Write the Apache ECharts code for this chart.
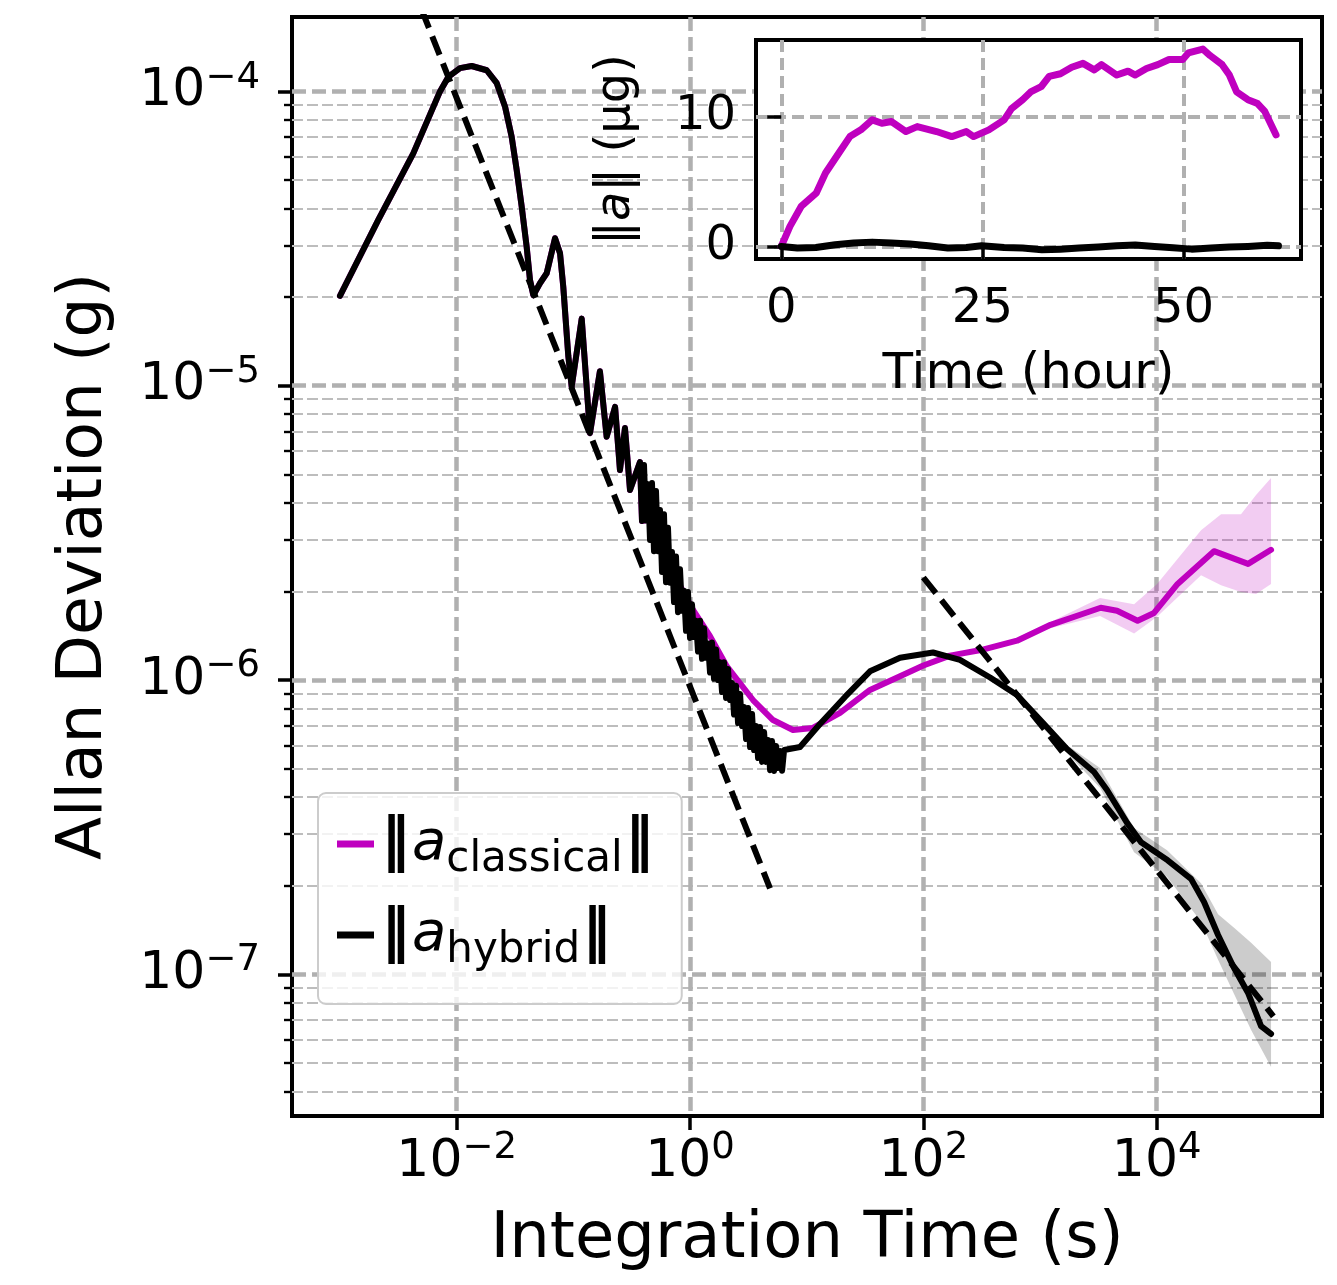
<!DOCTYPE html>
<html><head><meta charset="utf-8">
<script src="https://cdn.jsdelivr.net/npm/echarts@6/dist/echarts.min.js"></script>
<style>html,body{margin:0;padding:0;background:#fff}#c{width:1337px;height:1285px}</style>
</head><body><div id="c"></div>
<script>
// ---------- data ----------
// common part of both curves (tau < 0.35 s); both curves overlap here
const commonTau = [1.0e-3, 2.13e-3, 4.25e-3, 7.20e-3, 8.48e-3, 1.068e-2, 1.346e-2, 1.81e-2, 2.20e-2, 2.60e-2,
  2.96e-2, 3.27e-2, 3.61e-2, 3.98e-2, 4.25e-2, 4.54e-2, 5.18e-2, 5.91e-2, 6.97e-2, 7.69e-2,
  8.2e-2, 9.06e-2, 9.68e-2, 0.118, 0.139, 0.169, 0.193, 0.228, 0.251, 0.277, 0.306];
const commonAdev = [2.02e-5, 3.66e-5, 6.16e-5, 1.0e-4, 1.12e-4, 1.20e-4, 1.22e-4, 1.18e-4, 1.07e-4, 8.87e-5,
  7.02e-5, 5.41e-5, 4.06e-5, 2.97e-5, 2.29e-5, 2.03e-5, 2.23e-5, 2.41e-5, 3.17e-5, 2.82e-5,
  2.17e-5, 1.26e-5, 9.93e-6, 1.69e-5, 6.9e-6, 1.12e-5, 6.71e-6, 8.47e-6, 5.17e-6, 7.18e-6, 4.42e-6];

// hybrid: dense noisy section (0.37 s .. 6.4 s) then the long-tau part
const hybridTauTail = [0.3727, 0.3877, 0.4034, 0.4196, 0.4365, 0.4541, 0.4724, 0.4914, 0.5111, 0.5317,
  0.5531, 0.5754, 0.5985, 0.6226, 0.6477, 0.6738, 0.7009, 0.7291, 0.7586, 0.7891,
  0.8209, 0.8540, 0.8884, 0.9242, 0.9613, 1.0, 1.0403, 1.0822, 1.1258, 1.1711,
  1.2183, 1.2674, 1.3184, 1.3715, 1.4268, 1.4843, 1.5441, 1.6063, 1.6710, 1.7384,
  1.8084, 1.8813, 1.9571, 2.0359, 2.1180, 2.2033, 2.2921, 2.3845, 2.4805, 2.5805,
  2.6845, 2.7927, 2.9052, 3.0223, 3.1441, 3.2708, 3.4026, 3.5397, 3.6824, 3.8308,
  3.9852, 4.1458, 4.3129, 4.4867, 4.6675, 4.8556, 5.0512, 5.2548, 5.4666, 5.6869,
  5.9161, 6.1545, 6.4025,
  8.77, 13.0, 21.3, 34.9, 63.1, 121, 206, 373, 635, 1082,
  1702, 2904, 3750, 5570, 7345, 12420, 19690, 25460, 33570, 46030,
  60700, 78400, 95500];
const hybridAdevTail = [5.50e-6, 3.47e-6, 5.38e-6, 3.48e-6, 4.63e-6, 2.99e-6, 4.67e-6, 2.74e-6, 4.39e-6, 2.74e-6,
  3.78e-6, 2.33e-6, 3.66e-6, 2.15e-6, 3.29e-6, 2.14e-6, 2.72e-6, 1.84e-6, 2.63e-6, 1.70e-6,
  2.38e-6, 1.72e-6, 2.01e-6, 1.47e-6, 1.99e-6, 1.39e-6, 1.81e-6, 1.40e-6, 1.59e-6, 1.25e-6,
  1.59e-6, 1.18e-6, 1.50e-6, 1.19e-6, 1.33e-6, 1.06e-6, 1.34e-6, 1.01e-6, 1.27e-6, 1.00e-6,
  1.15e-6, 9.10e-7, 1.15e-6, 8.69e-7, 1.09e-6, 8.55e-7, 9.77e-7, 7.63e-7, 9.57e-7, 7.14e-7,
  8.96e-7, 6.98e-7, 8.10e-7, 6.30e-7, 8.03e-7, 5.92e-7, 7.66e-7, 5.78e-7, 6.98e-7, 5.43e-7,
  6.92e-7, 5.27e-7, 6.66e-7, 5.27e-7, 6.25e-7, 4.94e-7, 6.20e-7, 4.91e-7, 5.97e-7, 5.02e-7,
  5.74e-7, 4.92e-7, 5.78e-7,
  5.92e-7, 7.09e-7, 8.76e-7, 1.07e-6, 1.19e-6, 1.24e-6, 1.17e-6, 1.02e-6, 8.89e-7, 7.09e-7,
  5.83e-7, 4.87e-7, 4.23e-7, 3.27e-7, 2.81e-7, 2.44e-7, 2.11e-7, 1.76e-7, 1.36e-7, 1.05e-7,
  8.64e-8, 6.67e-8, 6.27e-8];

// classical: follows the hybrid at first, smooth (hidden under the noise), then long-tau part
const classicalTauTail = [0.3727, 0.3877, 0.501, 0.701, 1.061, 1.484, 2.076, 3.467, 5.145, 7.635, 11.3,
  19.3, 34.9, 63.1, 100, 169, 329, 635, 1231, 3311, 4571,
  6855, 9485, 15100, 30970, 60700, 95500];
const classicalAdevTail = [5.50e-6, 3.47e-6, 3.55e-6, 2.35e-6, 1.73e-6, 1.41e-6, 1.11e-6, 8.55e-7, 7.31e-7, 6.76e-7, 6.87e-7,
  7.73e-7, 9.25e-7, 1.03e-6, 1.12e-6, 1.21e-6, 1.27e-6, 1.36e-6, 1.54e-6, 1.76e-6, 1.72e-6,
  1.59e-6, 1.69e-6, 2.12e-6, 2.74e-6, 2.48e-6, 2.77e-6];

// confidence bands
const classicalBandTau = [454, 1219, 3266, 6397, 10070, 23990, 35600, 52800, 71000, 95500];
const classicalBandHigh = [1.31e-6, 1.57e-6, 1.90e-6, 1.81e-6, 2.12e-6, 3.23e-6, 3.66e-6, 3.66e-6, 4.25e-6, 4.86e-6];
const classicalBandLow = [1.29e-6, 1.50e-6, 1.65e-6, 1.44e-6, 1.64e-6, 2.27e-6, 2.10e-6, 1.99e-6, 1.96e-6, 2.12e-6];
const hybridBandTau = [820, 1702, 3266, 6397, 12270, 23990, 33570, 46030, 64450, 95500];
const hybridBandHigh = [7.85e-7, 6.01e-7, 5.02e-7, 3.14e-7, 2.64e-7, 2.04e-7, 1.60e-7, 1.44e-7, 1.28e-7, 1.10e-7];
const hybridBandLow = [7.61e-7, 5.65e-7, 4.30e-7, 2.60e-7, 2.14e-7, 1.51e-7, 1.12e-7, 8.57e-8, 6.47e-8, 4.84e-8];

// dashed guide lines (end points)
const fitSteep = [[0.005, 1.9e-4], [4.85, 1.96e-7]];
const fitShallow = [[100, 2.23e-6], [1e5, 7.2e-8]];

// inset time series
const insetTimeC = [0, 1.08, 2.47, 4.34, 5.5, 7.14, 8.53, 9.9, 11.3, 12.5, 13.7, 15.5, 16.9, 19.3, 21.2, 23.0, 23.9, 25.8,
  27.7, 28.6, 30.0, 31.0, 32.3, 33.3, 34.7, 36.1, 37.5, 38.9, 39.8, 41.7, 43.1, 44.0, 45.4, 46.8, 48.2, 49.9, 50.6,
  52.4, 53.3, 54.8, 55.7, 56.6, 58.0, 59.2, 60.1, 61.5];
const insetClassical = [0, 1.54, 3.08, 4.1, 5.65, 7.18, 8.46, 8.98, 9.75, 9.49, 9.62, 8.85, 9.23, 8.85, 8.46, 8.85, 8.46, 8.98,
  9.75, 10.6, 11.3, 11.9, 12.3, 13.1, 13.3, 13.8, 14.1, 13.6, 14.0, 13.2, 13.5, 13.2, 13.7, 14.0, 14.4, 14.4, 14.9,
  15.2, 14.7, 14.0, 13.2, 11.9, 11.3, 11.0, 10.4, 8.59];
const insetTimeH = [0, 2.0, 4.3, 6.7, 9.0, 11.3, 13.7, 16.0, 18.3, 20.7, 23.0, 24.9, 27.7, 30.0, 32.4, 34.7, 37.0, 39.4,
  41.7, 44.0, 46.4, 48.7, 51.0, 53.4, 55.7, 58.0, 60.4, 61.8];
const insetHybrid = [0, -0.13, -0.08, 0.13, 0.26, 0.33, 0.26, 0.18, 0.05, -0.13, -0.08, 0.05, -0.08, -0.13, -0.26, -0.21,
  -0.13, -0.05, 0.05, 0.10, 0, -0.10, -0.21, -0.13, -0.05, 0, 0.08, 0.05];

// ticks
const xMajorTicks = [1e-2, 1, 1e2, 1e4];
const yMajorTicks = [1e-7, 1e-6, 1e-5, 1e-4];
const yMinorTicks = [4e-8, 5e-8, 6e-8, 7e-8, 8e-8, 9e-8,
  2e-7, 3e-7, 4e-7, 5e-7, 6e-7, 7e-7, 8e-7, 9e-7,
  2e-6, 3e-6, 4e-6, 5e-6, 6e-6, 7e-6, 8e-6, 9e-6,
  2e-5, 3e-5, 4e-5, 5e-5, 6e-5, 7e-5, 8e-5, 9e-5];
const insetXTicks = [0, 25, 50];
const insetYTicks = [0, 10];

// ---------- chart ----------
const FONT = 'DejaVu Sans';
const MAG = '#bf00bf';
const zip = (a, b) => a.map((v, i) => [v, b[i]]);

const classicalData = zip(commonTau.concat(classicalTauTail), commonAdev.concat(classicalAdevTail));
const hybridData = zip(commonTau.concat(hybridTauTail), commonAdev.concat(hybridAdevTail));

function pow10Label(v) {
  const e = Math.round(Math.log10(v));
  return '{b|10}{s|' + (e < 0 ? '\u2212' + (-e) : String(e)) + '}';
}
const supRich = {
  b: {fontFamily: FONT, fontSize: 52, lineHeight: 52, color: '#000'},
  s: {fontFamily: FONT, fontSize: 37, lineHeight: 37, color: '#000', padding: [0, 0, 27, 0]}
};

function band(name, taus, lows, highs, fill) {
  return {
    type: 'custom', name: name, xAxisIndex: 0, yAxisIndex: 0, z: 1, silent: true, clip: true,
    data: [[taus[0], lows[0]]],
    renderItem: function (params, api) {
      const pts = [];
      for (let i = 0; i < taus.length; i++) pts.push(api.coord([taus[i], highs[i]]));
      for (let i = taus.length - 1; i >= 0; i--) pts.push(api.coord([taus[i], lows[i]]));
      return {type: 'polygon', shape: {points: pts}, style: {fill: fill}};
    }
  };
}

const gridLine = {color: '#b0b0b0', width: 4.5, type: [14, 6]};
const tickStyle = {color: '#000', width: 3.5};

const option = {
  animation: false,
  backgroundColor: '#fff',
  grid: [
    {left: 292, top: 17, width: 1030, height: 1099, show: true, borderColor: '#000', borderWidth: 4,
     backgroundColor: 'rgba(0,0,0,0)', z: 0},
    {left: 756, top: 40, width: 545, height: 219, show: true, borderColor: '#000', borderWidth: 4,
     backgroundColor: '#fff', z: 10}
  ],
  xAxis: [
    {gridIndex: 0, type: 'log', logBase: 10, min: 3.88e-4, max: 2.61e5,
     axisLine: {show: false},
     axisTick: {show: true, customValues: xMajorTicks, length: 14, lineStyle: tickStyle},
     axisLabel: {customValues: xMajorTicks, formatter: pow10Label, margin: 20, rich: supRich,
                 fontFamily: FONT, fontSize: 52, color: '#000'},
     splitLine: {show: true, lineStyle: gridLine},
     minorTick: {show: false}, minorSplitLine: {show: false},
     name: 'Integration Time (s)', nameLocation: 'middle', nameGap: 92,
     nameTextStyle: {fontFamily: FONT, fontSize: 64, lineHeight: 64, color: '#000'}},
    {gridIndex: 1, type: 'value', min: -3.14, max: 64.6, z: 11,
     axisLine: {show: false},
     axisTick: {show: true, customValues: insetXTicks, length: 14, lineStyle: tickStyle},
     axisLabel: {customValues: insetXTicks, margin: 27, fontFamily: FONT, fontSize: 48, lineHeight: 48, color: '#000'},
     splitLine: {show: true, lineStyle: {color: '#b0b0b0', width: 4, type: [12, 6]}},
     name: 'Time (hour)', nameLocation: 'middle', nameGap: 91,
     nameTextStyle: {fontFamily: FONT, fontSize: 50, lineHeight: 50, color: '#000'}}
  ],
  yAxis: [
    {gridIndex: 0, type: 'log', logBase: 10, min: 3.30e-8, max: 1.79e-4,
     axisLine: {show: false},
     axisTick: {show: true, customValues: yMajorTicks, length: 14, lineStyle: tickStyle},
     axisLabel: {customValues: yMajorTicks, formatter: pow10Label, margin: 32, rich: supRich,
                 fontFamily: FONT, fontSize: 52, color: '#000'},
     splitLine: {show: true, lineStyle: gridLine},
     minorTick: {show: false}, minorSplitLine: {show: false},
     name: 'Allan Deviation (g)', nameLocation: 'middle', nameGap: 176, nameRotate: 90,
     nameTextStyle: {fontFamily: FONT, fontSize: 63, lineHeight: 63, color: '#000'}},
    {gridIndex: 0, type: 'log', logBase: 10, min: 3.30e-8, max: 1.79e-4, position: 'left',
     axisLine: {show: false},
     axisTick: {show: true, customValues: yMinorTicks, length: 8, lineStyle: {color: '#000', width: 2.4}},
     axisLabel: {show: false},
     splitLine: {show: true, lineStyle: {color: '#bdbdbd', width: 2, type: [11, 4]}},
     minorTick: {show: false}, minorSplitLine: {show: false}},
    {gridIndex: 1, type: 'value', min: -0.97, max: 15.9, z: 11,
     axisLine: {show: false},
     axisTick: {show: true, customValues: insetYTicks, length: 14, lineStyle: tickStyle},
     axisLabel: {customValues: insetYTicks, margin: 20, fontFamily: FONT, fontSize: 48, color: '#000'},
     splitLine: {show: true, lineStyle: {color: '#b0b0b0', width: 4, type: [12, 6]}},
     name: '\u2016{i|a}\u2016 (\u03bcg)', nameLocation: 'middle', nameGap: 115, nameRotate: 90,
     nameTextStyle: {fontFamily: FONT, fontSize: 48, lineHeight: 48, color: '#000',
       rich: {i: {fontFamily: FONT, fontSize: 48, fontStyle: 'italic', color: '#000'}}}}
  ],
  legend: {
    orient: 'vertical', left: 318, top: 793,
    padding: [14, 26, 32, 19], itemGap: 17, itemWidth: 37, itemHeight: 7,
    icon: 'rect', selectedMode: false,
    backgroundColor: 'rgba(255,255,255,0.8)', borderColor: '#cccccc', borderWidth: 2, borderRadius: 8,
    data: ['classical', 'hybrid'],
    formatter: function (n) { return '{n|\u2016}{a|a}{s|' + n + '}{n|\u2016}'; },
    textStyle: {rich: {
      n: {fontFamily: FONT, fontSize: 58, fontWeight: 'bold', lineHeight: 62, color: '#000', padding: [0, 2, 0, 2]},
      a: {fontFamily: FONT, fontSize: 56, lineHeight: 62, fontStyle: 'italic', color: '#000'},
      s: {fontFamily: FONT, fontSize: 42, lineHeight: 30, color: '#000', padding: [32, 0, 0, 0]}
    }}
  },
  series: [
    band('classicalBand', classicalBandTau, classicalBandLow, classicalBandHigh, 'rgba(191,0,191,0.2)'),
    band('hybridBand', hybridBandTau, hybridBandLow, hybridBandHigh, 'rgba(0,0,0,0.2)'),
    {type: 'line', name: 'classical', xAxisIndex: 0, yAxisIndex: 0, data: classicalData, z: 2,
     showSymbol: false, symbol: 'none', color: MAG, itemStyle: {color: MAG},
     lineStyle: {color: MAG, width: 6, join: 'round', cap: 'round'}},
    {type: 'line', name: 'hybrid', xAxisIndex: 0, yAxisIndex: 0, data: hybridData, z: 3,
     showSymbol: false, symbol: 'none', color: '#000', itemStyle: {color: '#000'},
     lineStyle: {color: '#000', width: 6, join: 'round', cap: 'round'}},
    {type: 'line', name: 'fit1', xAxisIndex: 0, yAxisIndex: 0, data: fitSteep, z: 4,
     symbol: 'none', lineStyle: {color: '#000', width: 6, type: [20, 9]}},
    {type: 'line', name: 'fit2', xAxisIndex: 0, yAxisIndex: 0, data: fitShallow, z: 4,
     symbol: 'none', lineStyle: {color: '#000', width: 6, type: [20, 9]}},
    {type: 'line', name: 'insetClassical', xAxisIndex: 1, yAxisIndex: 2, data: zip(insetTimeC, insetClassical), z: 12,
     symbol: 'none', lineStyle: {color: MAG, width: 7, join: 'round', cap: 'round'}},
    {type: 'line', name: 'insetHybrid', xAxisIndex: 1, yAxisIndex: 2, data: zip(insetTimeH, insetHybrid), z: 12,
     symbol: 'none', lineStyle: {color: '#000', width: 7, join: 'round', cap: 'round'}}
  ]
};

const chart = echarts.init(document.getElementById('c'), null, {renderer: 'canvas'});
chart.setOption(option);
</script></body></html>
